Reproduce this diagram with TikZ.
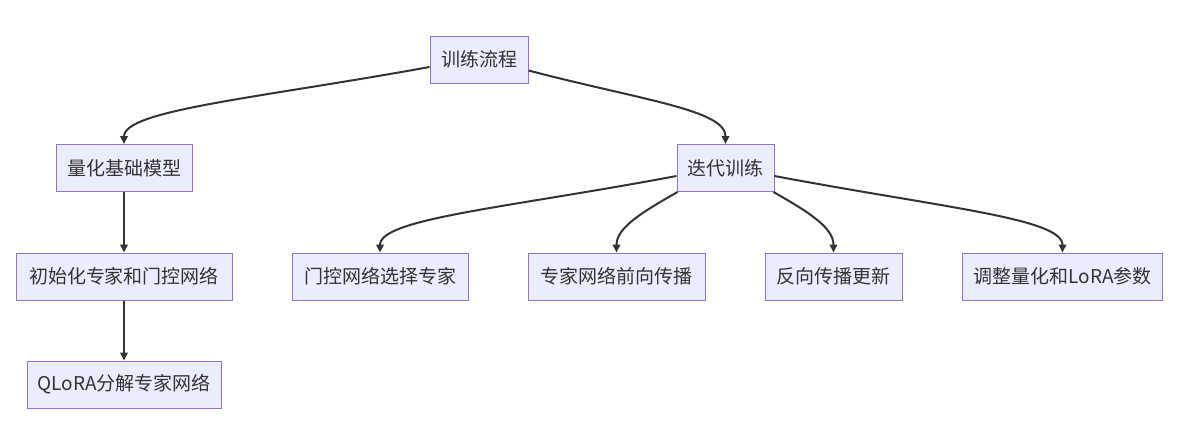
\documentclass[tikz,border=0pt]{standalone}
\usepackage{fontspec}
\setmainfont{Noto Sans CJK SC}
\usetikzlibrary{arrows.meta}
\definecolor{nodefill}{HTML}{ECECFF}
\definecolor{nodeline}{HTML}{9370DB}
\definecolor{edgecol}{HTML}{333333}
\tikzset{
  box/.style={draw=nodeline, fill=nodefill, line width=1pt, minimum height=47pt,
    inner sep=0pt, font=\fontsize{19}{22}\selectfont, text=edgecol},
  link/.style={draw=edgecol, line width=2pt, -{Triangle[length=8pt,width=7.5pt]}}
}
\begin{document}
\begin{tikzpicture}[x=1pt,y=-1pt]
\useasboundingbox[fill=white] (0,0) rectangle (1192,423);
\node[box, minimum width=98pt]  (A) at (479,59.5)   {训练流程};
\node[box, minimum width=136pt] (B) at (124,168)    {量化基础模型};
\node[box, minimum width=97pt]  (C) at (725.5,168)  {迭代训练};
\node[box, minimum width=216pt] (D) at (124,276.5)  {初始化专家和门控网络};
\node[box, minimum width=176pt] (E) at (380,276.5)  {门控网络选择专家};
\node[box, minimum width=177pt] (F) at (616.5,276.5) {专家网络前向传播};
\node[box, minimum width=137pt] (G) at (833.5,276.5) {反向传播更新};
\node[box, minimum width=200pt] (H) at (1062.5,276.5) {调整量化和LoRA参数};
\node[box, minimum width=194pt] (I) at (124,384.5)  {QLoRA分解专家网络};

\draw[link] ([yshift=-7.5pt]A.west) .. controls +(-170,31) and +(0,-34) .. (B.north);
\draw[link] ([yshift=-11pt]A.east) .. controls +(115,30) and +(0,-34) .. (C.north);
\draw[link] (B.south) -- (D.north);
\draw[link] (D.south) -- (I.north);
\draw[link] ([yshift=-8pt]C.west) .. controls +(-170,32) and +(0,-34) .. (E.north);
\draw[link] ([xshift=1pt]C.south west) .. controls +(-35,20) and +(0,-25) .. (F.north);
\draw[link] ([xshift=-1pt]C.south east) .. controls +(35,20) and +(0,-25) .. (G.north);
\draw[link] ([yshift=-8pt]C.east) .. controls +(170,32) and +(0,-34) .. (H.north);
\end{tikzpicture}
\end{document}
